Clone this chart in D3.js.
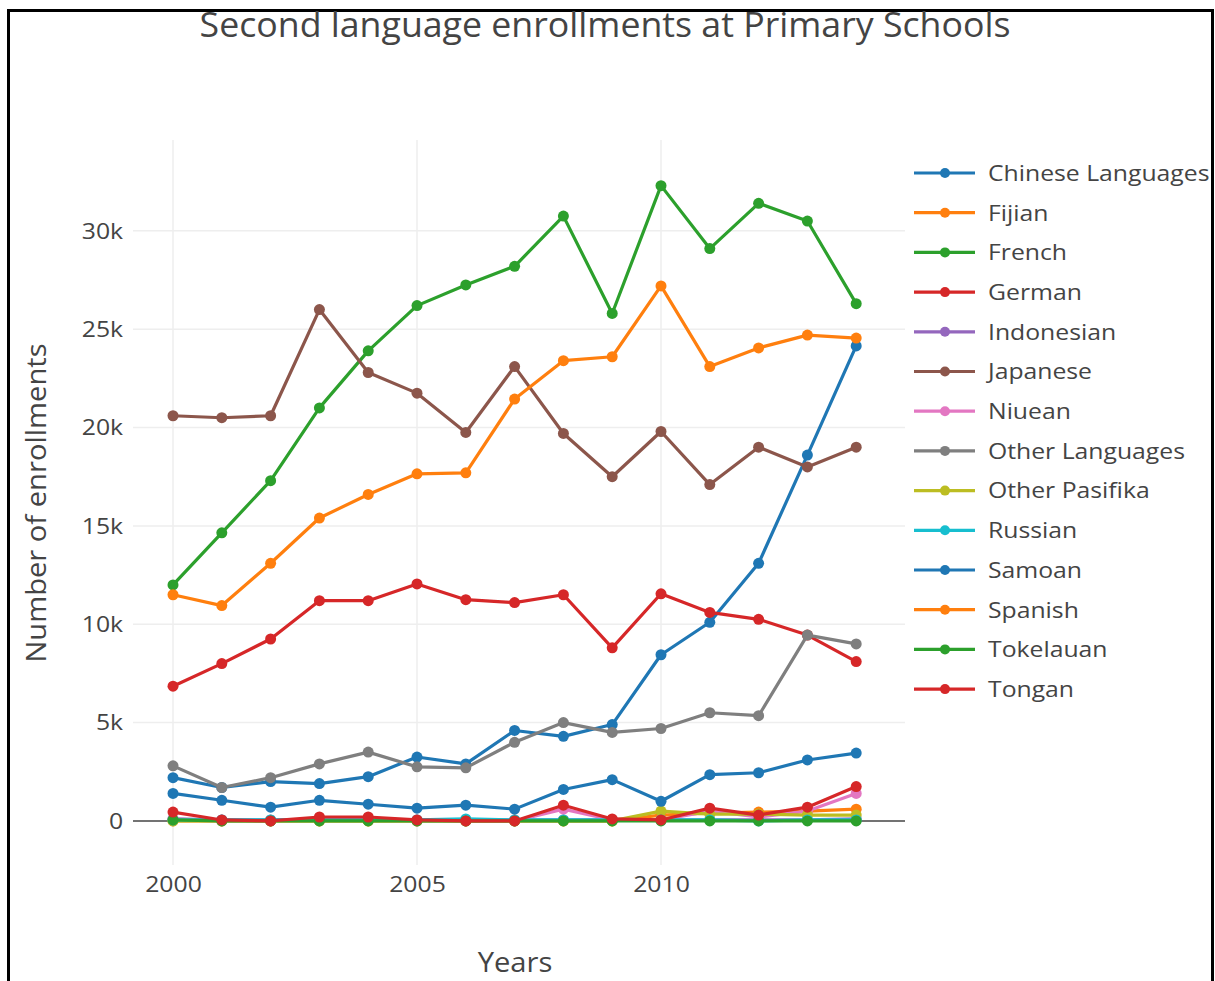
<!DOCTYPE html>
<html>
<head>
<meta charset="utf-8">
<script src="https://cdn.jsdelivr.net/npm/d3@7"></script>
<style>
  body { margin: 0; background: #fff; }
  text { font-family: "Open Sans", sans-serif; fill: #444; }
</style>
</head>
<body>
<script>
const width = 1215;
const height = 981;

// values in thousands of enrollments, one entry per year
const years = [2000, 2001, 2002, 2003, 2004, 2005, 2006, 2007, 2008, 2009, 2010, 2011, 2012, 2013, 2014];
const chinese = [2.2, 1.7, 2.0, 1.9, 2.25, 3.25, 2.9, 4.6, 4.3, 4.9, 8.45, 10.1, 13.1, 18.6, 24.15];
const fijian = [0, 0, 0, 0, 0, 0, 0, 0, 0, 0, 0.3, 0.4, 0.45, 0.5, 0.6];
const french = [12.0, 14.65, 17.3, 21.0, 23.9, 26.2, 27.25, 28.2, 30.75, 25.8, 32.3, 29.1, 31.4, 30.5, 26.3];
const german = [6.85, 8.0, 9.25, 11.2, 11.2, 12.05, 11.25, 11.1, 11.5, 8.8, 11.55, 10.6, 10.25, 9.45, 8.1];
const indonesian = [0.1, 0.05, 0.05, 0.05, 0.05, 0.05, 0.05, 0.05, 0.05, 0.05, 0.05, 0.05, 0.05, 0.05, 0.1];
const japanese = [20.6, 20.5, 20.6, 26.0, 22.8, 21.75, 19.75, 23.1, 19.7, 17.5, 19.8, 17.1, 19.0, 18.0, 19.0];
const niuean = [0.1, 0, 0, 0.1, 0.1, 0, 0, 0, 0.6, 0.05, 0.05, 0.5, 0.2, 0.5, 1.4];
const otherLanguages = [2.8, 1.7, 2.2, 2.9, 3.5, 2.75, 2.7, 4.0, 5.0, 4.5, 4.7, 5.5, 5.35, 9.45, 9.0];
const otherPasifika = [0, 0, 0, 0, 0, 0, 0, 0, 0, 0, 0.5, 0.35, 0.35, 0.3, 0.3];
const russian = [0.05, 0.05, 0.05, 0.05, 0.05, 0.05, 0.1, 0.05, 0.05, 0.05, 0.05, 0.05, 0, 0.05, 0.05];
const samoan = [1.4, 1.05, 0.7, 1.05, 0.85, 0.65, 0.8, 0.6, 1.6, 2.1, 1.0, 2.35, 2.45, 3.1, 3.45];
const spanish = [11.5, 10.95, 13.1, 15.4, 16.6, 17.65, 17.7, 21.45, 23.4, 23.6, 27.2, 23.1, 24.05, 24.7, 24.55];
const tokelauan = [0.05, 0, 0, 0, 0, 0, 0, 0, 0, 0, 0, 0, 0, 0, 0];
const tongan = [0.45, 0.05, 0, 0.2, 0.2, 0.05, 0, 0, 0.8, 0.1, 0.05, 0.65, 0.3, 0.7, 1.75];

const names = ['Chinese Languages', 'Fijian', 'French', 'German', 'Indonesian', 'Japanese', 'Niuean',
               'Other Languages', 'Other Pasifika', 'Russian', 'Samoan', 'Spanish', 'Tokelauan', 'Tongan'];
const values = [chinese, fijian, french, german, indonesian, japanese, niuean,
                otherLanguages, otherPasifika, russian, samoan, spanish, tokelauan, tongan];
const colors = ['#1f77b4', '#ff7f0e', '#2ca02c', '#d62728', '#9467bd', '#8c564b', '#e377c2',
                '#7f7f7f', '#bcbd22', '#17becf', '#1f77b4', '#ff7f0e', '#2ca02c', '#d62728'];

const xTicks = [2000, 2005, 2010];
const yTicks = [0, 5000, 10000, 15000, 20000, 25000, 30000];

const plot = {left: 133, right: 905, top: 140, bottom: 865};
// the screenshot's text is a little wider than the font draws it
const stretch = 1.1;

let svg = d3.select('body')
            .append('svg')
            .attr('width', width)
            .attr('height', height);

// outer frame
svg.append('rect')
   .attr('x', 8.5).attr('y', 10.5)
   .attr('width', 1204).attr('height', 1000)
   .attr('fill', 'none')
   .attr('stroke', '#000')
   .attr('stroke-width', 3);

let xScale = d3.scaleLinear()
               .domain([1999.18, 2015])
               .range([plot.left, plot.right]);

let yScale = d3.scaleLinear()
               .domain([-2240, 34620])
               .range([plot.bottom, plot.top]);

// grid
svg.append('g')
   .selectAll('line')
   .data(xTicks)
   .enter()
   .append('line')
   .attr('x1', d => xScale(d)).attr('x2', d => xScale(d))
   .attr('y1', plot.top).attr('y2', plot.bottom)
   .attr('stroke', '#eee').attr('stroke-width', 1.5);

svg.append('g')
   .selectAll('line')
   .data(yTicks.filter(d => d !== 0))
   .enter()
   .append('line')
   .attr('x1', plot.left).attr('x2', plot.right)
   .attr('y1', d => yScale(d)).attr('y2', d => yScale(d))
   .attr('stroke', '#eee').attr('stroke-width', 1.5);

// zero line
svg.append('line')
   .attr('x1', plot.left).attr('x2', plot.right)
   .attr('y1', yScale(0)).attr('y2', yScale(0))
   .attr('stroke', '#444').attr('stroke-width', 1.5);

// axes (labels only, plotly style)
let xAxis = d3.axisBottom(xScale)
              .tickValues(xTicks)
              .tickFormat(d3.format('d'))
              .tickSize(0)
              .tickPadding(11);
let gx = svg.append('g')
            .attr('transform', `translate(0, ${plot.bottom})`)
            .call(xAxis);
gx.select('.domain').remove();
gx.selectAll('text')
  .style('font-size', '22.5px')
  .style('font-family', '"Open Sans", sans-serif')
  .attr('fill', '#444')
  .attr('transform', `scale(${stretch}, 1)`);

let yAxis = d3.axisLeft(yScale)
              .tickValues(yTicks)
              .tickFormat(d => d === 0 ? '0' : (d / 1000) + 'k')
              .tickSize(0)
              .tickPadding(9);
let gy = svg.append('g')
            .attr('transform', `translate(${plot.left}, 0)`)
            .call(yAxis);
gy.select('.domain').remove();
gy.selectAll('text')
  .style('font-size', '22.5px')
  .style('font-family', '"Open Sans", sans-serif')
  .attr('fill', '#444')
  .attr('transform', `scale(${stretch}, 1)`);

// series
let line = d3.line()
             .x((d, i) => xScale(years[i]))
             .y(d => yScale(d * 1000));

names.forEach((name, k) => {
    let g = svg.append('g');
    g.append('path')
     .datum(values[k])
     .attr('d', line)
     .attr('fill', 'none')
     .attr('stroke', colors[k])
     .attr('stroke-width', 3.2)
     .attr('stroke-linejoin', 'round');
    g.selectAll('circle')
     .data(values[k])
     .enter()
     .append('circle')
     .attr('cx', (d, i) => xScale(years[i]))
     .attr('cy', d => yScale(d * 1000))
     .attr('r', 5.5)
     .attr('fill', colors[k]);
});

// legend
let legend = svg.append('g');
names.forEach((name, k) => {
    let y = 173 + k * 39.7;
    legend.append('line')
          .attr('x1', 914).attr('x2', 975)
          .attr('y1', y).attr('y2', y)
          .attr('stroke', colors[k]).attr('stroke-width', 3.2);
    legend.append('circle')
          .attr('cx', 945).attr('cy', y).attr('r', 5)
          .attr('fill', colors[k]);
    legend.append('text')
          .attr('transform', `translate(988, ${y}) scale(${stretch}, 1)`)
          .attr('dy', '0.35em')
          .style('font-size', '22.5px')
          .text(name);
});

// titles
svg.append('text')
   .attr('transform', 'translate(605, 37) scale(1.05, 1)')
   .attr('text-anchor', 'middle')
   .style('font-size', '34px')
   .text('Second language enrollments at Primary Schools');

svg.append('text')
   .attr('transform', `translate(515, 972) scale(${stretch}, 1)`)
   .attr('text-anchor', 'middle')
   .style('font-size', '26.5px')
   .text('Years');

svg.append('text')
   .attr('transform', `translate(46, 503) rotate(-90) scale(${stretch}, 1)`)
   .attr('text-anchor', 'middle')
   .style('font-size', '26.5px')
   .text('Number of enrollments');
</script>
</body>
</html>
